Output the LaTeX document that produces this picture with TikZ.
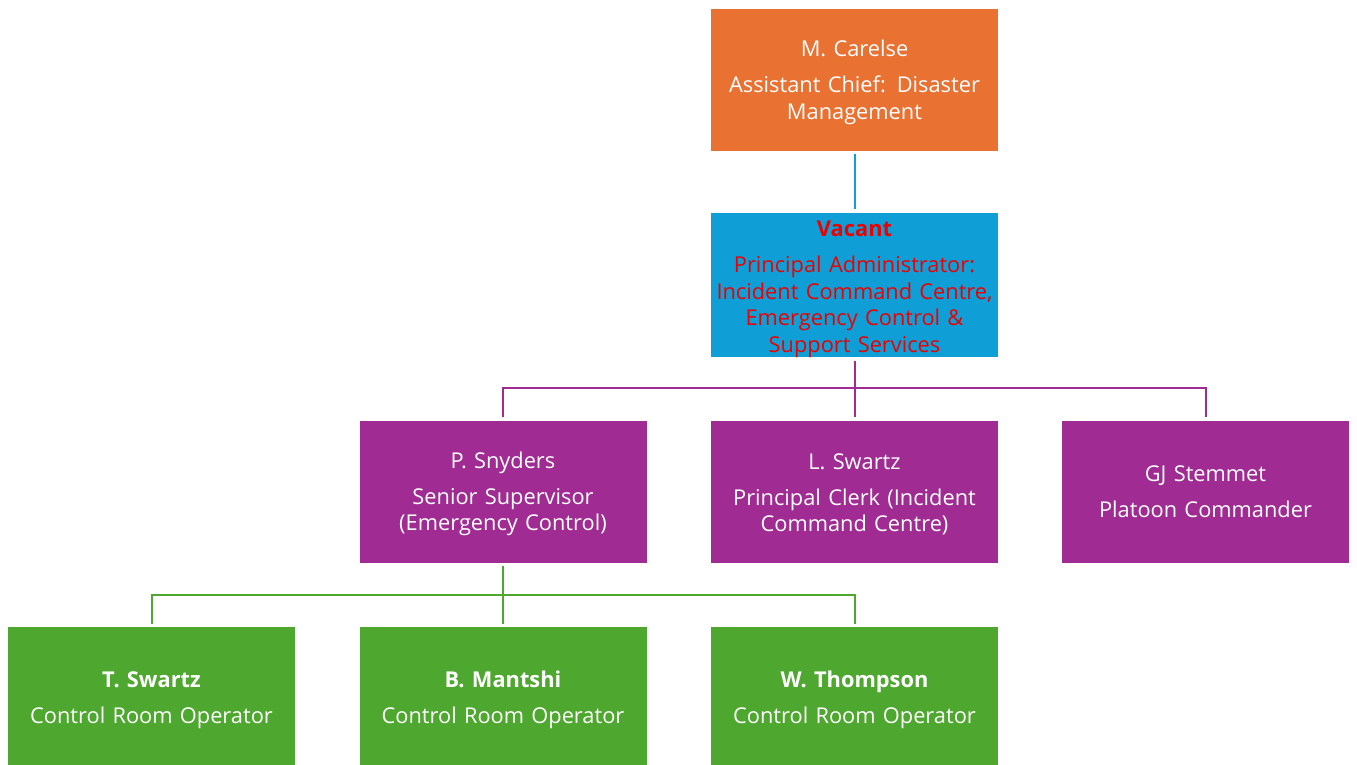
\documentclass[tikz,border=0pt]{standalone}
\usepackage{fontspec}
\setmainfont{Open Sans}
\definecolor{corange}{HTML}{E97132}
\definecolor{cblue}{HTML}{0F9ED5}
\definecolor{cpurple}{HTML}{A02B93}
\definecolor{cgreen}{HTML}{4EA72E}
\definecolor{cred}{HTML}{EE0000}
\newcommand{\topstrut}[1]{\rule{0pt}{#1}}
\begin{document}
\begin{tikzpicture}[x=1pt,y=-1pt,
  box/.style={rectangle, minimum width=287pt, minimum height=142pt, inner sep=0pt,
    text width=285pt, align=center, text=white,
    font=\fontsize{21.8}{26.5}\selectfont},
  lnk/.style={line width=2pt, shorten <=3pt, shorten >=3pt}]
\useasboundingbox (0,0) rectangle (1357,765);
\node[box, fill=corange] (top) at (854.5,80) {\topstrut{21pt}M. Carelse\\[9.5pt]Assistant Chief: Disaster\\Management};
\node[box, fill=cblue, text=cred] (vac) at (854.5,285) {\topstrut{24pt}\textbf{Vacant}\\[9.5pt]Principal Administrator:\\Incident Command Centre,\\Emergency Control \&\\Support Services};
\node[box, fill=cpurple] (sny) at (503,491.5) {\topstrut{21pt}P. Snyders\\[9.5pt]Senior Supervisor\\(Emergency Control)};
\node[box, fill=cpurple] (lsw) at (854.5,491.5) {\topstrut{21pt}L. Swartz\\[9.5pt]Principal Clerk (Incident\\Command Centre)};
\node[box, fill=cpurple] (gjs) at (1205.5,491.5) {GJ Stemmet\\[9.5pt]Platoon Commander};
\node[box, fill=cgreen] (tsw) at (151.5,698) {\topstrut{21pt}\textbf{T. Swartz}\\[9.5pt]Control Room Operator};
\node[box, fill=cgreen] (bma) at (503,698) {\topstrut{21pt}\textbf{B. Mantshi}\\[9.5pt]Control Room Operator};
\node[box, fill=cgreen] (wth) at (854.5,698) {\topstrut{21pt}\textbf{W. Thompson}\\[9.5pt]Control Room Operator};
\coordinate (pj) at (854.5,388);
\coordinate (gj) at (503,595);
\draw[lnk, cblue] (top.south) -- (vac.north);
\draw[lnk, cpurple] (vac.south) -- (lsw.north);
\draw[lnk, cpurple] (sny.north) -- (sny.north |- pj) -- (gjs.north |- pj) -- (gjs.north);
\draw[lnk, cgreen] (sny.south) -- (bma.north);
\draw[lnk, cgreen] (tsw.north) -- (tsw.north |- gj) -- (wth.north |- gj) -- (wth.north);
\end{tikzpicture}
\end{document}
